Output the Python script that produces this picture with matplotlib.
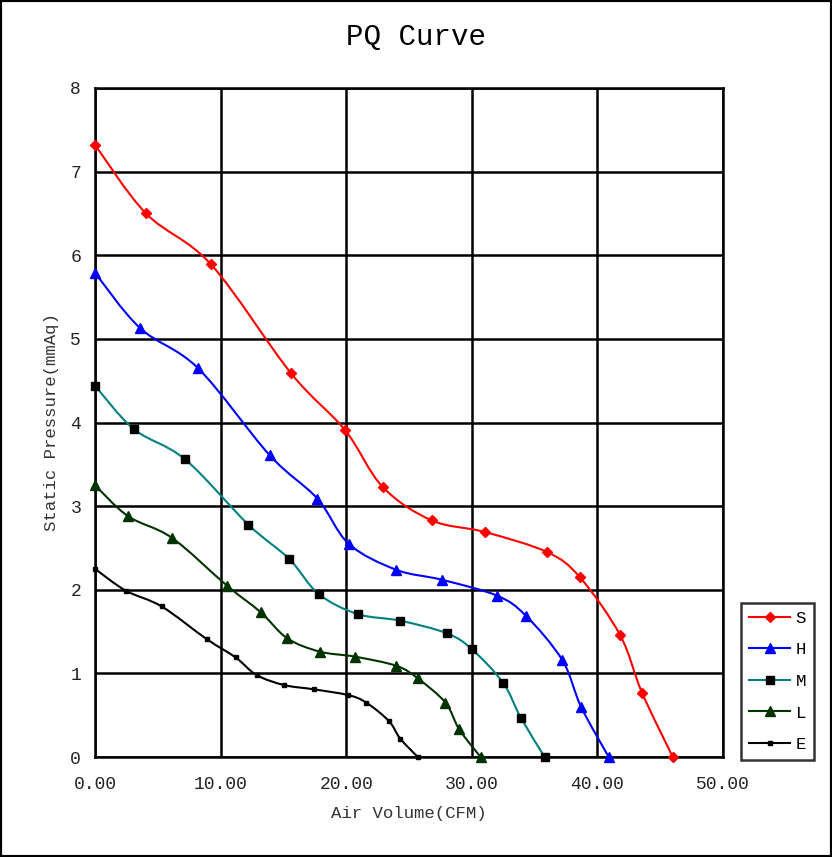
import matplotlib
matplotlib.use("Agg")
import matplotlib.pyplot as plt
from matplotlib.path import Path
from matplotlib.patches import PathPatch, Rectangle
from matplotlib.lines import Line2D
import numpy as np

plt.rcParams['font.family'] = ['Liberation Mono', 'DejaVu Sans Mono']

# PQ data (CFM, mmAq)
s_x = [0.0, 4.06, 9.24, 15.6, 19.9, 22.9, 26.8, 31.05, 36.0, 38.6, 41.8, 43.55, 46.0]
s_y = [7.32, 6.50, 5.89, 4.59, 3.91, 3.23, 2.83, 2.69, 2.45, 2.15, 1.46, 0.77, 0.0]

h_x = [0.0, 3.58, 8.2, 13.9, 17.7, 20.2, 23.96, 27.6, 32.0, 34.3, 37.2, 38.7, 40.9]
h_y = [5.79, 5.13, 4.65, 3.61, 3.09, 2.55, 2.24, 2.12, 1.93, 1.69, 1.16, 0.60, 0.0]

m_x = [0.0, 3.1, 7.17, 12.2, 15.45, 17.8, 20.9, 24.3, 28.0, 30.0, 32.5, 33.9, 35.8]
m_y = [4.44, 3.92, 3.56, 2.78, 2.37, 1.95, 1.71, 1.63, 1.48, 1.29, 0.885, 0.47, 0.0]

l_x = [0.0, 2.63, 6.13, 10.5, 13.2, 15.3, 17.9, 20.7, 24.0, 25.7, 27.9, 29.0, 30.7]
l_y = [3.25, 2.88, 2.62, 2.05, 1.73, 1.42, 1.26, 1.20, 1.09, 0.94, 0.65, 0.33, 0.0]

e_x = [0.0, 2.44, 5.31, 8.89, 11.2, 12.87, 15.07, 17.4, 20.17, 21.6, 23.4, 24.3, 25.7]
e_y = [2.25, 1.99, 1.80, 1.41, 1.19, 0.98, 0.86, 0.81, 0.74, 0.65, 0.43, 0.22, 0.0]

names = ["S", "H", "M", "L", "E"]
colors = ["#ff0000", "#0000ff", "#008080", "#003300", "#000000"]
marker_colors = ["#ff0000", "#0000ff", "#000000", "#003300", "#000000"]
markers = ["D", "^", "s", "^", "s"]
msizes = [5, 7, 6, 7, 3]


def smooth_path(xs, ys):
    # excel-like smoothed line: catmull-rom segments as cubic beziers
    p = np.column_stack([xs, ys])
    verts = [p[0]]
    codes = [Path.MOVETO]
    n = len(p)
    for i in range(n - 1):
        p0 = p[i - 1] if i > 0 else p[i]
        p1 = p[i]
        p2 = p[i + 1]
        p3 = p[i + 2] if i + 2 < n else p[i + 1]
        verts += [p1 + (p2 - p0) / 6, p2 - (p3 - p1) / 6, p2]
        codes += [Path.CURVE4] * 3
    return Path(verts, codes)


fig = plt.figure(figsize=(8.32, 8.57), dpi=100)
ax = fig.add_axes([95 / 832, 100 / 857, 628 / 832, 669 / 857])

series = [(s_x, s_y), (h_x, h_y), (m_x, m_y), (l_x, l_y), (e_x, e_y)]
handles = []
for (xs, ys), nm, c, mc, mk, ms in zip(series, names, colors, marker_colors, markers, msizes):
    ax.add_patch(PathPatch(smooth_path(xs, ys), facecolor="none", edgecolor=c,
                           lw=1.5, zorder=3, clip_on=False))
    ax.plot(xs, ys, ls="none", marker=mk, ms=ms, color=mc, zorder=4, clip_on=False)
    handles.append(Line2D([], [], color=c, lw=1.5, marker=mk, ms=ms,
                          markerfacecolor=mc, markeredgecolor=mc, label=nm))

ax.set_xlim(0, 50)
ax.set_ylim(0, 8)
ax.set_xticks(np.arange(0, 51, 10))
ax.set_xticklabels(["%.2f" % v for v in np.arange(0, 51, 10)])
ax.set_yticks(range(0, 9))
ax.tick_params(length=0, labelsize=13, colors="#222222")
ax.tick_params(axis="x", pad=14)
ax.tick_params(axis="y", pad=10)
ax.grid(True, color="black", lw=1.8)
ax.set_axisbelow(True)
for sp in ax.spines.values():
    sp.set_linewidth(1.8)

ax.set_xlabel("Air Volume(CFM)", fontsize=12.5, color="#333333", labelpad=9)
ax.set_ylabel("Static Pressure(mmAq)", fontsize=12.5, color="#333333", labelpad=8)
fig.text(0.5, 1 - 37 / 857, "PQ Curve", fontsize=21, ha="center", va="center")

leg = fig.legend(handles=handles, loc="lower left",
                 bbox_to_anchor=(741 / 832, 97 / 857), bbox_transform=fig.transFigure,
                 borderaxespad=0, fontsize=12.5, frameon=True, fancybox=False,
                 handlelength=2.4, borderpad=0.45, labelspacing=0.95, handletextpad=0.3)
leg.get_frame().set_edgecolor("black")
leg.get_frame().set_linewidth(1.8)

fig.add_artist(Rectangle((0, 0), 1, 1, transform=fig.transFigure, fill=False,
                         lw=3, edgecolor="black"))

fig.savefig("out.png", dpi=100)
